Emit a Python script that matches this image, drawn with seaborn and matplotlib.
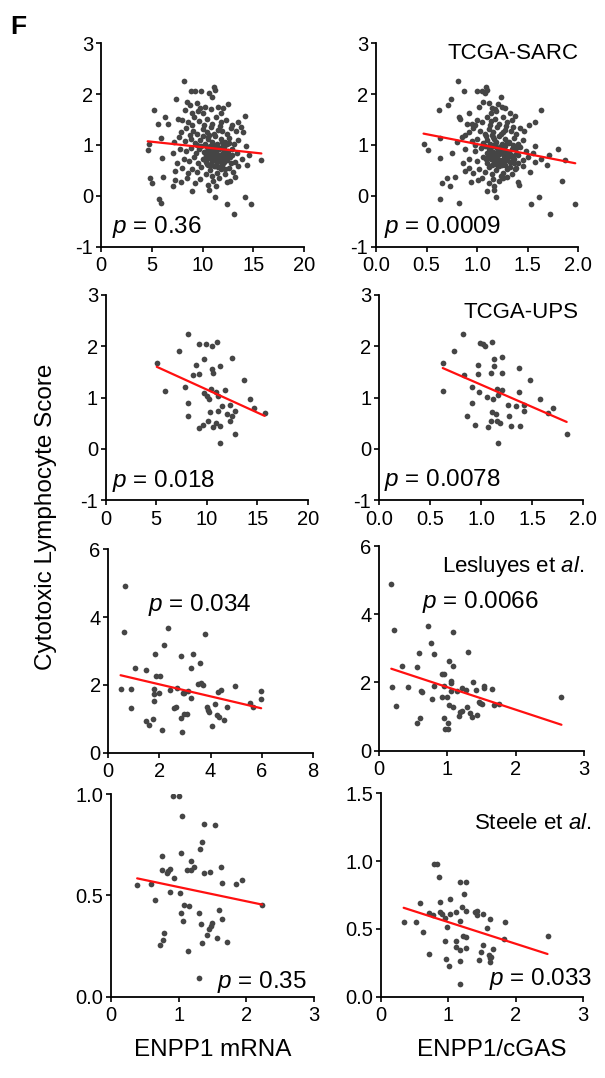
import numpy as np
import seaborn as sns
import matplotlib.pyplot as plt

# TCGA-SARC: one score per patient, two predictors (ENPP1 mRNA, ENPP1/cGAS)
sarc_score = [2.07, 2.07, 2.07, 2.03, 2.14, 2.09, 1.91, 2.26, 1.95,
              1.69, 1.69, 1.78, 1.82, 1.72, 1.75, 1.70, 1.74, 1.72, 1.81, 1.62, 1.62, 1.62, 1.85, 1.66,
              1.56, 1.51, 1.42, 1.42, 1.50, 1.45, 1.55, 1.48, 1.52, 1.42, 1.55, 1.45, 1.50, 1.40, 1.45, 1.57, 1.40, 1.40,
              1.25, 1.33, 1.28, 1.22, 1.32, 1.26, 1.35, 1.22, 1.30, 1.27, 1.22, 1.33, 1.28, 1.36, 1.26, 1.20, 1.38, 1.20,
              1.13, 1.02, 1.05, 1.15, 1.08, 1.12, 1.04, 1.10, 1.02, 1.15, 1.06, 1.18, 1.02, 1.12, 1.05, 1.14, 1.02, 1.10, 0.98, 1.18, 1.00, 1.00, 1.00,
              0.90, 0.84, 0.92, 0.88, 0.95, 0.84, 0.92, 0.86, 0.96, 0.82, 0.90, 0.98, 0.85, 0.93, 0.82, 0.96, 0.88, 0.92, 0.84, 0.81, 0.80, 0.80, 0.86, 0.80, 0.99,
              0.74, 0.65, 0.72, 0.68, 0.76, 0.64, 0.72, 0.66, 0.75, 0.62, 0.70, 0.78, 0.66, 0.73, 0.64, 0.70, 0.76, 0.66, 0.72, 0.60, 0.70, 0.60, 0.60,
              0.48, 0.55, 0.44, 0.52, 0.46, 0.56, 0.42, 0.50, 0.58, 0.45, 0.52, 0.42, 0.55, 0.47, 0.58, 0.40,
              0.35, 0.25, 0.38, 0.20, 0.31, 0.28, 0.35, 0.26, 0.33, 0.22, 0.30, 0.20, 0.28, 0.30, 0.38, 0.36,
              -0.07, -0.14, -0.03, -0.16, -0.36, -0.03, -0.17, 0.12, 0.10,
              0.62, 0.68, 0.75, 0.81, 0.87, 0.93, 0.99, 1.05, 1.11, 0.58, 0.66, 0.72, 0.79, 0.85, 0.91, 0.97, 1.03, 0.70, 0.77, 0.83,
              0.64, 0.71, 0.78, 0.89, 0.95, 1.01, 0.56, 0.74, 0.86, 0.92, 0.69, 0.76, 0.82, 0.88, 0.94, 0.53, 0.61, 0.67, 0.73, 0.80]
sarc_mrna = [8.9, 9.3, 9.9, 10.6, 11.1, 11.2, 7.4, 8.2, 10.9,
             5.2, 8.3, 8.8, 9.5, 9.8, 10.2, 10.8, 11.5, 12.0, 12.5, 11.8, 9.0, 10.0, 8.5, 9.6,
             6.3, 7.6, 5.6, 6.6, 8.0, 8.6, 9.2, 9.7, 10.4, 10.9, 11.3, 11.8, 12.3, 12.9, 13.5, 14.2, 10.1, 9.0,
             7.9, 8.4, 9.1, 9.5, 10.0, 10.4, 10.8, 11.1, 11.5, 11.9, 12.4, 12.8, 13.3, 13.8, 14.0, 10.6, 11.7, 8.8,
             5.9, 4.7, 7.2, 7.7, 8.3, 8.9, 9.3, 9.8, 10.2, 10.5, 10.9, 11.2, 11.4, 11.8, 12.2, 12.6, 13.1, 13.5, 14.3, 10.0, 11.0, 9.5, 12.0,
             4.6, 7.1, 7.8, 8.4, 8.9, 9.4, 9.7, 10.1, 10.4, 10.7, 10.9, 11.1, 11.3, 11.6, 11.9, 12.1, 12.5, 12.9, 13.4, 14.6, 10.3, 11.5, 11.0, 12.3, 9.9,
             6.0, 7.5, 8.2, 8.7, 9.2, 9.6, 10.0, 10.3, 10.6, 10.8, 11.0, 11.2, 11.4, 11.7, 12.0, 12.4, 12.7, 13.2, 13.9, 14.4, 15.8, 10.5, 11.9,
             7.3, 8.0, 8.6, 9.0, 9.5, 9.9, 10.3, 10.7, 11.1, 11.4, 11.8, 12.2, 12.6, 13.0, 13.5, 10.9,
             4.8, 5.0, 6.1, 7.1, 7.3, 7.9, 8.5, 9.3, 9.8, 10.5, 11.0, 11.3, 12.4, 12.7, 13.2, 11.6,
             5.7, 5.9, 11.2, 12.4, 13.1, 14.2, 14.8, 10.6, 9.0,
             10.4, 11.6, 10.9, 11.8, 10.2, 11.4, 10.7, 11.9, 10.5, 11.2, 12.1, 10.1, 11.5, 12.3, 10.8, 11.3, 12.6, 11.9, 10.3, 11.1,
             12.8, 11.3, 12.2, 10.6, 11.7, 12.4, 11.5, 10.7, 11.3, 12.0, 10.9, 11.8, 12.5, 10.5, 11.1, 12.2, 10.8, 11.4, 12.1, 12.9]
sarc_ratio = [0.87, 1.00, 1.05, 1.08, 1.09, 1.10, 0.74, 0.81, 1.24,
              0.62, 1.63, 0.71, 1.12, 1.15, 1.02, 1.18, 1.25, 1.28, 1.21, 1.32, 0.92, 1.14, 1.06, 1.19,
              0.82, 0.83, 0.90, 0.95, 1.00, 1.05, 1.10, 1.14, 1.18, 1.22, 1.26, 1.30, 1.34, 1.51, 1.57, 1.37, 1.13, 0.98,
              0.92, 0.96, 1.03, 1.08, 1.12, 1.16, 1.20, 1.24, 1.28, 1.33, 1.38, 1.42, 1.46, 1.35, 1.26, 1.15, 1.29, 0.88,
              0.63, 0.47, 0.80, 0.85, 0.95, 1.00, 1.06, 1.10, 1.13, 1.16, 1.19, 1.22, 1.25, 1.28, 1.31, 1.36, 1.40, 1.45, 1.57, 1.09, 1.18, 0.98, 1.35,
              0.51, 0.75, 0.88, 0.98, 1.04, 1.10, 1.13, 1.16, 1.19, 1.22, 1.25, 1.28, 1.31, 1.34, 1.38, 1.42, 1.48, 1.80, 1.55, 1.71, 1.20, 1.27, 1.14, 1.33, 1.08,
              0.63, 0.86, 0.92, 1.00, 1.06, 1.10, 1.14, 1.17, 1.20, 1.23, 1.26, 1.29, 1.32, 1.36, 1.40, 1.45, 1.50, 1.57, 1.63, 1.69, 1.87, 1.15, 1.28,
              0.88, 0.92, 0.96, 1.02, 1.08, 1.12, 1.15, 1.19, 1.22, 1.26, 1.30, 1.34, 1.38, 1.52, 1.45, 1.24,
              0.70, 0.65, 0.78, 0.73, 1.01, 0.94, 1.05, 1.12, 1.16, 1.41, 1.22, 1.17, 1.40, 1.84, 1.30, 1.26,
              0.63, 0.82, 1.19, 1.53, 1.72, 1.61, 1.97, 1.17, 1.10,
              1.18, 1.22, 1.15, 1.28, 1.20, 1.12, 1.24, 1.30, 1.17, 1.21, 1.27, 1.09, 1.33, 1.19, 1.25, 1.14, 1.31, 1.23, 1.16, 1.26,
              1.36, 1.29, 1.11, 1.22, 1.38, 1.18, 1.32, 1.27, 1.13, 1.24, 1.20, 1.34, 1.16, 1.29, 1.21, 1.37, 1.25, 1.19, 1.30, 1.40]

# TCGA-UPS
ups_mrna_x = [5.05, 5.87, 7.26, 8.15, 7.85, 8.12, 8.18, 8.68, 8.91, 9.24, 9.27, 9.67, 9.90, 10.53, 11.02, 10.53,
              10.59, 11.29, 9.70, 10.0, 10.2, 10.4, 10.92, 11.15, 11.78, 9.24, 9.60, 10.16, 10.33, 10.63, 10.89,
              11.32, 11.09, 11.52, 11.26, 11.95, 12.31, 12.51, 12.25, 12.48, 12.77, 12.8, 13.66, 14.22, 14.65, 15.71]
ups_mrna_y = [1.67, 1.12, 1.90, 2.23, 1.21, 0.89, 0.63, 1.44, 1.63, 1.45, 2.05, 1.75, 2.04, 2.01, 2.08, 1.56,
              1.47, 1.62, 1.09, 1.02, 0.98, 1.16, 1.10, 1.02, 1.15, 0.40, 0.46, 0.55, 0.72, 0.42, 0.50,
              0.44, 0.73, 0.84, 0.12, 0.68, 0.85, 1.78, 0.55, 0.63, 0.74, 0.29, 1.35, 0.97, 0.80, 0.70]
ups_ratio_x = [0.625, 0.63, 0.74, 0.82, 0.83, 0.91, 0.91, 0.86, 0.94, 0.97, 0.97, 0.99, 1.02, 1.04, 1.11, 1.13,
               1.13, 1.10, 1.21, 1.21, 0.985, 1.06, 1.12, 1.16, 1.21, 1.17, 1.11, 1.15, 1.10, 1.07, 1.16, 1.19,
               1.17, 1.26, 1.27, 1.29, 1.34, 1.37, 1.37, 1.42, 1.42, 1.385, 1.48, 1.58, 1.66, 1.71, 1.84]
ups_ratio_y = [1.68, 1.12, 1.90, 2.23, 1.44, 1.21, 0.89, 0.63, 0.46, 1.63, 1.46, 2.06, 2.04, 2.01, 2.08, 1.76,
               1.62, 1.47, 1.47, 1.79, 1.10, 1.01, 0.98, 1.16, 1.15, 1.05, 0.72, 0.68, 0.55, 0.42, 0.54, 0.50,
               0.12, 0.85, 0.64, 0.44, 0.84, 1.57, 1.11, 0.85, 0.74, 0.44, 1.35, 0.98, 0.70, 0.80, 0.29]

# Lesluyes et al.
les_mrna_x = [0.65, 0.61, 0.48, 0.87, 0.89, 1.03, 1.47, 1.46, 1.59, 1.75, 1.84, 1.88, 2.03, 1.77, 1.80, 1.77,
              2.00, 2.11, 2.19, 2.32, 2.41, 2.56, 2.63, 2.67, 2.83, 2.84, 2.88, 2.93, 2.96, 3.08, 2.97, 3.13,
              3.22, 3.23, 3.30, 3.52, 3.57, 3.64, 3.70, 3.79, 3.87, 3.91, 3.94, 4.04, 4.17, 4.25, 4.33, 4.29,
              4.39, 4.52, 4.63, 4.95, 5.54, 5.65, 5.98, 5.98]
les_mrna_y = [4.92, 3.55, 1.87, 1.87, 1.32, 2.49, 2.45, 0.94, 0.83, 0.98, 2.90, 2.26, 2.26, 1.72, 1.88, 1.53,
              1.75, 0.67, 3.18, 3.69, 1.85, 1.32, 1.36, 1.90, 2.84, 1.01, 0.62, 1.75, 1.13, 1.13, 1.77, 1.83,
              2.50, 1.60, 2.91, 2.02, 2.66, 2.06, 2.00, 3.49, 1.36, 1.26, 1.19, 0.80, 1.44, 1.11, 1.06, 1.80,
              1.85, 0.96, 1.36, 1.96, 1.48, 1.35, 1.83, 1.58]
les_ratio_x = [0.18, 0.22, 0.19, 0.25, 0.33, 0.43, 0.55, 0.55, 0.60, 0.58, 0.61, 0.63, 0.72, 0.76, 0.80, 0.78,
               0.80, 0.92, 0.95, 0.92, 0.95, 0.95, 0.97, 1.01, 1.01, 1.00, 1.02, 1.03, 1.05, 1.06, 1.06, 1.08,
               1.08, 1.09, 1.14, 1.17, 1.19, 1.21, 1.22, 1.27, 1.29, 1.30, 1.33, 1.36, 1.37, 1.42, 1.44, 1.46,
               1.48, 1.50, 1.54, 1.54, 1.69, 1.66, 1.75, 2.67]
les_ratio_y = [4.88, 3.53, 1.86, 1.32, 2.47, 1.86, 2.44, 0.82, 0.97, 2.87, 1.74, 1.72, 3.66, 3.15, 2.83, 1.51,
               1.90, 2.25, 2.25, 1.57, 1.90, 0.95, 0.63, 0.65, 0.80, 1.58, 2.64, 1.34, 1.97, 2.05, 1.74, 2.48,
               3.47, 1.29, 1.76, 1.02, 1.12, 1.17, 1.83, 1.78, 1.29, 2.88, 1.11, 0.98, 2.00, 1.79, 1.05, 1.43,
               1.39, 1.36, 1.91, 1.84, 1.34, 1.81, 1.36, 1.56]

# Steele et al.
ste_mrna_x = [0.39, 0.60, 0.65, 0.72, 0.77, 0.79, 0.75, 0.76, 0.83, 0.85, 0.88, 0.88, 0.93, 0.92, 1.01, 1.05,
              1.04, 1.02, 1.03, 1.07, 1.08, 1.12, 1.16, 1.18, 1.19, 1.23, 1.14, 1.30, 1.32, 1.34, 1.33, 1.34,
              1.37, 1.38, 1.30, 1.42, 1.45, 1.48, 1.49, 1.46, 1.54, 1.57, 1.59, 1.62, 1.64, 1.64, 1.72, 1.84,
              1.94, 2.23]
ste_mrna_y = [0.552, 0.558, 0.477, 0.255, 0.280, 0.313, 0.695, 0.624, 0.610, 0.621, 0.629, 0.518, 0.588, 0.988,
              0.988, 0.890, 0.707, 0.511, 0.412, 0.371, 0.453, 0.626, 0.448, 0.667, 0.626, 0.638, 0.224, 0.412,
              0.728, 0.764, 0.357, 0.265, 0.854, 0.608, 0.092, 0.305, 0.333, 0.349, 0.366, 0.613, 0.849, 0.290,
              0.429, 0.639, 0.563, 0.384, 0.270, 0.554, 0.575, 0.453]
ste_ratio_x = [0.34, 0.53, 0.58, 0.63, 0.71, 0.72, 0.78, 0.79, 0.83, 0.87, 0.88, 0.88, 0.91, 0.95, 0.95, 0.96,
               0.98, 1.02, 1.02, 1.01, 1.11, 1.11, 1.11, 1.17, 1.18, 1.18, 1.18, 1.18, 1.21, 1.23, 1.22, 1.26,
               1.26, 1.27, 1.26, 1.40, 1.42, 1.43, 1.46, 1.48, 1.51, 1.52, 1.57, 1.60, 1.62, 1.62, 1.62, 1.64,
               1.67, 1.82, 1.84, 2.47]
ste_ratio_y = [0.548, 0.553, 0.688, 0.474, 0.619, 0.314, 0.600, 0.980, 0.980, 0.885, 0.700, 0.624, 0.607, 0.582,
               0.408, 0.280, 0.513, 0.607, 0.722, 0.224, 0.622, 0.408, 0.369, 0.845, 0.560, 0.344, 0.263, 0.093,
               0.663, 0.757, 0.450, 0.845, 0.634, 0.442, 0.361, 0.622, 0.602, 0.634, 0.270, 0.329, 0.609, 0.381,
               0.509, 0.310, 0.573, 0.283, 0.253, 0.295, 0.354, 0.428, 0.548, 0.450]

sns.set_theme(style='ticks')
plt.rcParams['font.family'] = ['Liberation Sans', 'DejaVu Sans']
plt.rcParams['mathtext.fontset'] = 'custom'
plt.rcParams['mathtext.it'] = 'Liberation Sans:italic'
plt.rcParams['mathtext.rm'] = 'Liberation Sans'
plt.rcParams['axes.unicode_minus'] = False
plt.rcParams['text.color'] = 'black'

W, H = 605, 1078
fig = plt.figure(figsize=(W / 100, H / 100), dpi=100)


def px(x, y):
    return x / W, 1 - y / H


def box(l, t, r, b):
    return [l / W, 1 - b / H, (r - l) / W, (b - t) / H]


panels = [
    # x, y, pixel box, xlim, xticks, ylim, yticks, p label, p pos, dataset, dataset pos
    (sarc_mrna, sarc_score, (101, 43.3, 304, 246.7), (0, 20), [0, 5, 10, 15, 20], (-1, 3), [-1, 0, 1, 2, 3],
     '$p$ = 0.36', (157, 233), None, None),
    (sarc_ratio, sarc_score, (376, 43.3, 578.3, 246.7), (0, 2), [0, 0.5, 1, 1.5, 2], (-1, 3), [-1, 0, 1, 2, 3],
     '$p$ = 0.0009', (442, 233), 'TCGA-SARC', (579, 59)),
    (ups_mrna_x, ups_mrna_y, (105.7, 295, 308, 500), (0, 20), [0, 5, 10, 15, 20], (-1, 3), [-1, 0, 1, 2, 3],
     '$p$ = 0.018', (164, 486.5), None, None),
    (ups_ratio_x, ups_ratio_y, (379, 295, 583, 500), (0, 2), [0, 0.5, 1, 1.5, 2], (-1, 3), [-1, 0, 1, 2, 3],
     '$p$ = 0.0078', (442, 486), 'TCGA-UPS', (579, 318)),
    (les_mrna_x, les_mrna_y, (108.3, 549.3, 312.8, 752.7), (0, 8), [0, 2, 4, 6, 8], (0, 6), [0, 2, 4, 6],
     '$p$ = 0.034', (200, 611), None, None),
    (les_ratio_x, les_ratio_y, (379, 546, 584, 750.7), (0, 3), [0, 1, 2, 3], (0, 6), [0, 2, 4, 6],
     '$p$ = 0.0066', (480, 608), 'Lesluyes et $al$.', (584, 572)),
    (ste_mrna_x, ste_mrna_y, (110.7, 794, 314.3, 996.7), (0, 3), [0, 1, 2, 3], (0, 1), [0, 0.5, 1],
     '$p$ = 0.35', (262, 988), None, None),
    (ste_ratio_x, ste_ratio_y, (380.7, 793.3, 583.3, 996.7), (0, 3), [0, 1, 2, 3], (0, 1.5), [0, 0.5, 1, 1.5],
     '$p$ = 0.033', (541, 985), 'Steele et $al$.', (591, 829)),
]

for x, y, pbox, xlim, xticks, ylim, yticks, ptxt, ppos, name, npos in panels:
    ax = fig.add_axes(box(*pbox))
    sns.regplot(x=np.array(x), y=np.array(y), ax=ax, ci=None, truncate=True,
                scatter_kws=dict(s=17, color='#454545', linewidths=0, alpha=1),
                line_kws=dict(color='#ff1010', lw=1.6))
    ax.set_xlim(*xlim)
    ax.set_ylim(*ylim)
    ax.set_xticks(xticks)
    ax.set_yticks(yticks)
    ax.set_xlabel('')
    ax.set_ylabel('')
    sns.despine(ax=ax)
    for s in ['left', 'bottom']:
        ax.spines[s].set_linewidth(1.3)
        ax.spines[s].set_color('black')
    ax.tick_params(axis='both', which='major', length=3.5, width=1.2, color='black',
                   labelsize=14.5, labelcolor='black', direction='out')
    ax.tick_params(axis='x', pad=3.5)
    ax.tick_params(axis='y', pad=2)
    ax.set_facecolor('white')
    fig.text(*px(*ppos), ptxt, fontsize=17.5, ha='center', va='baseline')
    if name:
        fig.text(*px(*npos), name, fontsize=16, ha='right', va='baseline')

fig.text(*px(10.5, 34.3), 'F', fontsize=19, fontweight='bold', ha='left', va='baseline')
fig.text(*px(46, 517), 'Cytotoxic Lymphocyte Score', fontsize=17.5, rotation=90, ha='center', va='center')
fig.text(*px(213, 1050), 'ENPP1 mRNA', fontsize=17.5, ha='center', va='center')
fig.text(*px(492, 1050), 'ENPP1/cGAS', fontsize=17.5, ha='center', va='center')

fig.savefig('out.png', dpi=100, facecolor='white')
